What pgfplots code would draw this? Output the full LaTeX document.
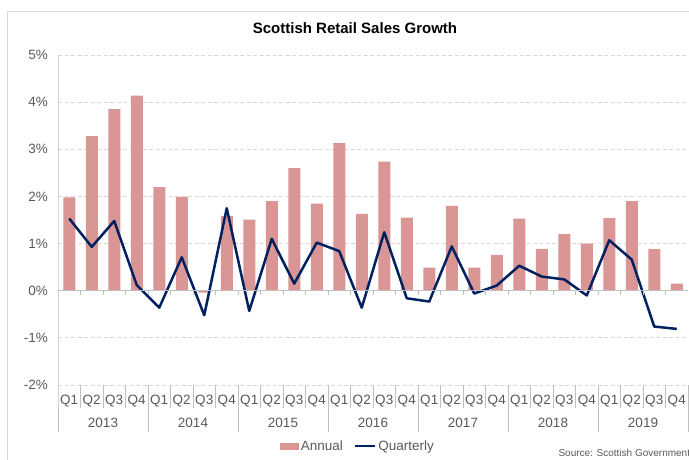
\documentclass[border=0pt]{standalone}
\usepackage{pgfplots}
\pgfplotsset{compat=1.18}
\usepackage{fontspec}
\setmainfont{Liberation Sans}
\definecolor{barcol}{RGB}{217,150,148}
\definecolor{navy}{RGB}{0,32,96}
\definecolor{ticktext}{RGB}{89,89,89}
\definecolor{gridcol}{RGB}{217,217,217}
\definecolor{axcol}{RGB}{191,191,191}
\definecolor{framecol}{RGB}{217,217,217}
\begin{document}
\begin{tikzpicture}
\useasboundingbox (0,0) rectangle (689pt,459pt);
\clip (0,0) rectangle (689pt,459pt);
\fill[white] (0,0) rectangle (689pt,459pt);
\draw[framecol, line width=1pt] (7.5pt,-10pt) -- (7.5pt,447pt) -- (700pt,447pt);
\node[font=\fontsize{15}{18}\selectfont\bfseries, text=black] at (355pt,431pt) {Scottish Retail Sales Growth};
\node[font=\fontsize{10}{12}\selectfont, text=ticktext, anchor=west] at (555pt,6pt) {Source: Scottish Government};
\begin{axis}[
  at={(58pt,74pt)}, anchor=south west,
  scale only axis, width=630pt, height=330pt,
  xmin=-0.5, xmax=27.5, ymin=-2, ymax=5,
  clip=false,
  axis line style={draw=none},
  major tick length=0pt,
  ytick={-2,-1,0,1,2,3,4,5},
  yticklabels={-2\%,-1\%,0\%,1\%,2\%,3\%,4\%,5\%},
  yticklabel style={font=\fontsize{13.5}{16}\selectfont, text=ticktext, xshift=-6.5pt},
  xtick={0,...,27},
  xticklabels={Q1,Q2,Q3,Q4,Q1,Q2,Q3,Q4,Q1,Q2,Q3,Q4,Q1,Q2,Q3,Q4,Q1,Q2,Q3,Q4,Q1,Q2,Q3,Q4,Q1,Q2,Q3,Q4},
  xticklabel style={font=\fontsize{13.5}{16}\selectfont, text=ticktext, anchor=center, yshift=-16pt},
  ymajorgrids,
  major grid style={gridcol, dash pattern=on 4pt off 2.5pt, line width=0.8pt},
  legend style={at={(0.476,-0.185)}, anchor=center, draw=none, fill=none,
    font=\fontsize{13.5}{16}\selectfont, text=ticktext, legend columns=2,
    /tikz/every even column/.append style={column sep=9pt},
    inner sep=0pt, cells={anchor=west}},
]
\addplot[ybar, bar width=12pt, fill=barcol, draw=none,
  legend image code/.code={\fill[barcol] (0pt,-3.5pt) rectangle (19pt,3.5pt);}]
coordinates {
(0,1.98) (1,3.28) (2,3.85) (3,4.14) (4,2.20) (5,1.99) (6,-0.04) (7,1.58)
(8,1.51) (9,1.90) (10,2.60) (11,1.85) (12,3.13) (13,1.63) (14,2.74) (15,1.55)
(16,0.49) (17,1.80) (18,0.49) (19,0.76) (20,1.53) (21,0.89) (22,1.20) (23,1.00)
(24,1.54) (25,1.90) (26,0.88) (27,0.15)
};
\addlegendentry{Annual}
\addplot[navy, line width=2.5pt, line join=round, mark=none,
  legend image code/.code={\draw[navy, line width=2.5pt] (0pt,0pt) -- (20pt,0pt);}]
coordinates {
(0,1.53) (1,0.93) (2,1.48) (3,0.12) (4,-0.36) (5,0.71) (6,-0.52) (7,1.75)
(8,-0.43) (9,1.10) (10,0.15) (11,1.02) (12,0.84) (13,-0.36) (14,1.24) (15,-0.16)
(16,-0.23) (17,0.94) (18,-0.06) (19,0.11) (20,0.53) (21,0.30) (22,0.24) (23,-0.10)
(24,1.07) (25,0.66) (26,-0.76) (27,-0.81)
};
\addlegendentry{Quarterly}
% zero line with small ticks
\draw[axcol, line width=0.8pt] (axis cs:-0.5,0) -- (axis cs:27.5,0);
\pgfplotsinvokeforeach{0.5,1.5,2.5,3.5,4.5,5.5,6.5,7.5,8.5,9.5,10.5,11.5,12.5,13.5,14.5,15.5,16.5,17.5,18.5,19.5,20.5,21.5,22.5,23.5,24.5,25.5,26.5}{
  \draw[axcol, line width=0.8pt] (axis cs:#1,0) -- ++(0pt,-4pt);
  \draw[axcol, line width=0.8pt] (axis cs:#1,-2) -- ++(0pt,-23pt);
}
% y axis line and year separators
\draw[axcol, line width=0.8pt] (axis cs:-0.5,5) -- (axis cs:-0.5,-2) -- ++(0pt,-47pt);
\pgfplotsinvokeforeach{3.5,7.5,11.5,15.5,19.5,23.5,27.5}{
  \draw[axcol, line width=0.8pt] (axis cs:#1,-2) -- ++(0pt,-47pt);
}
% year labels
\node[font=\fontsize{13.5}{16}\selectfont, text=ticktext, yshift=-38pt] at (axis cs:1.5,-2) {2013};
\node[font=\fontsize{13.5}{16}\selectfont, text=ticktext, yshift=-38pt] at (axis cs:5.5,-2) {2014};
\node[font=\fontsize{13.5}{16}\selectfont, text=ticktext, yshift=-38pt] at (axis cs:9.5,-2) {2015};
\node[font=\fontsize{13.5}{16}\selectfont, text=ticktext, yshift=-38pt] at (axis cs:13.5,-2) {2016};
\node[font=\fontsize{13.5}{16}\selectfont, text=ticktext, yshift=-38pt] at (axis cs:17.5,-2) {2017};
\node[font=\fontsize{13.5}{16}\selectfont, text=ticktext, yshift=-38pt] at (axis cs:21.5,-2) {2018};
\node[font=\fontsize{13.5}{16}\selectfont, text=ticktext, yshift=-38pt] at (axis cs:25.5,-2) {2019};
\end{axis}
\end{tikzpicture}
\end{document}
